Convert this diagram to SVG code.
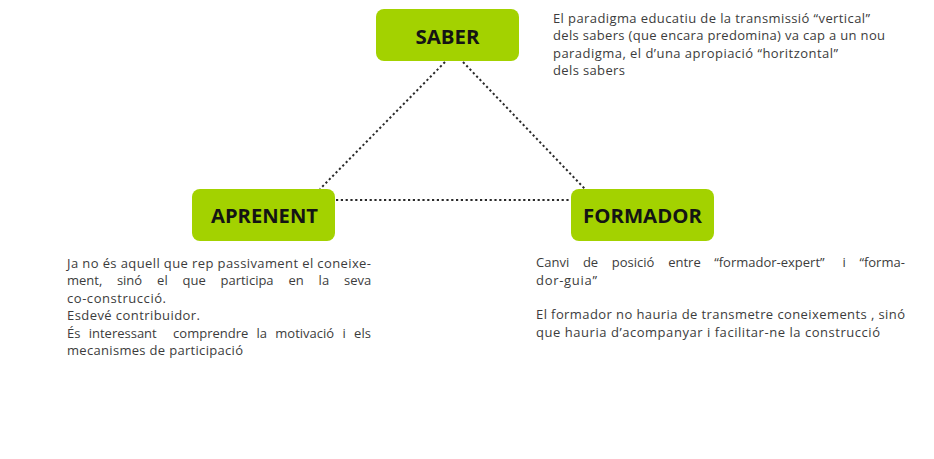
<svg xmlns="http://www.w3.org/2000/svg" width="934" height="459" viewBox="0 0 934 459">
<style>
.box{fill:#a3d200}
.lbl{font-family:"Open Sans","Liberation Sans",sans-serif;font-weight:700;font-size:19px;fill:#141414;text-anchor:middle}
.txt{font-family:"Open Sans","Liberation Sans",sans-serif;font-size:13px;fill:#3c3c3c}
.dot{stroke:#2a2a2a;stroke-width:2;stroke-dasharray:2.2 2.6;fill:none}
</style>
<rect width="934" height="459" fill="#ffffff"/>
<g id="connectors">
<line class="dot" x1="445" y1="62" x2="320" y2="189"/>
<line class="dot" x1="463" y1="62" x2="585" y2="189"/>
<line class="dot" x1="336" y1="200" x2="571" y2="200"/>
</g>
<g id="saber">
<rect class="box" x="376" y="9" width="143" height="52" rx="8"/>
<text class="lbl" x="447.5" y="44" textLength="64" lengthAdjust="spacingAndGlyphs">SABER</text>
</g>
<g id="aprenent">
<rect class="box" x="192" y="189" width="143" height="52" rx="8"/>
<text class="lbl" x="264.5" y="223" textLength="107" lengthAdjust="spacingAndGlyphs">APRENENT</text>
</g>
<g id="formador">
<rect class="box" x="571" y="189" width="143" height="52" rx="8"/>
<text class="lbl" x="642.5" y="223" textLength="119" lengthAdjust="spacingAndGlyphs">FORMADOR</text>
</g>
<g id="text-saber" class="txt">
<text x="553" y="22.5" textLength="317">El paradigma educatiu de la transmissió “vertical”</text>
<text x="553" y="40" textLength="332">dels sabers (que encara predomina) va cap a un nou</text>
<text x="553" y="57.5" textLength="285">paradigma, el d’una apropiació “horitzontal”</text>
<text x="553" y="75" textLength="72">dels sabers</text>
</g>
<g id="text-aprenent" class="txt">
<text x="67" y="267.5" textLength="304">Ja no és aquell que rep passivament el coneixe-</text>
<text y="285"><tspan x="67">ment,</tspan> <tspan x="116.9">sinó</tspan> <tspan x="157.1">el</tspan> <tspan x="182.5">que</tspan> <tspan x="220.5">participa</tspan> <tspan x="288.5">en</tspan> <tspan x="318.6">la</tspan> <tspan x="344">seva</tspan></text>
<text x="67" y="302.5" textLength="99">co-construcció.</text>
<text x="67" y="320" textLength="133">Esdevé contribuidor.</text>
<text y="337.5"><tspan x="67">És</tspan> <tspan x="88.7">interessant</tspan>  <tspan x="173.1">comprendre</tspan> <tspan x="256.5">la</tspan> <tspan x="275.3">motivació</tspan> <tspan x="342.5">i</tspan> <tspan x="354.1">els</tspan></text>
<text x="67" y="355" textLength="176">mecanismes de participació</text>
</g>
<g id="text-formador" class="txt">
<text y="267"><tspan x="536">Canvi</tspan> <tspan x="582.9">de</tspan> <tspan x="611.8">posició</tspan> <tspan x="668.2">entre</tspan> <tspan x="714.2">“formador-expert”</tspan> <tspan x="842.4">i</tspan> <tspan x="859.4">“forma-</tspan></text>
<text x="536" y="284.5" textLength="61">dor-guia”</text>
<text x="536" y="319" textLength="369">El formador no hauria de transmetre coneixements , sinó</text>
<text x="536" y="336.5" textLength="344">que hauria d’acompanyar i facilitar-ne la construcció</text>
</g>
</svg>
